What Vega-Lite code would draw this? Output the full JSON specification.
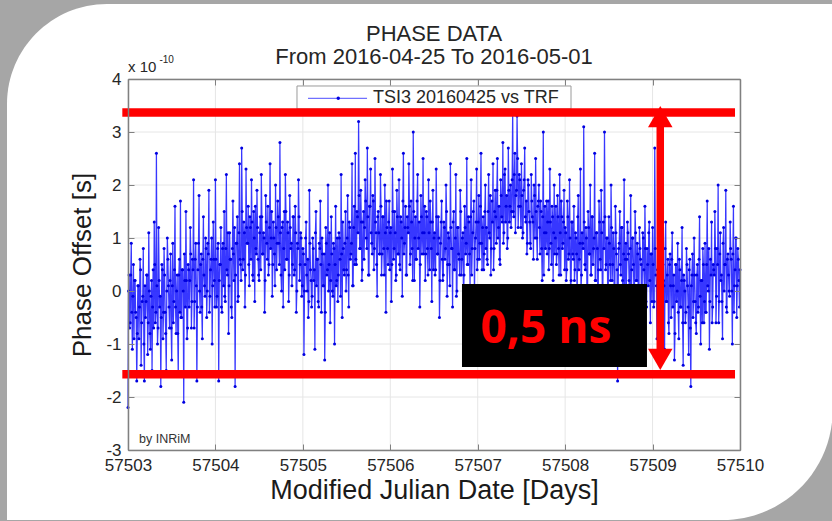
{
"$schema": "https://vega.github.io/schema/vega-lite/v6.json",
"width": 612,
"height": 371,
"autosize": {"type": "none"},
"padding": {"left": 128, "top": 79, "right": 92, "bottom": 71},
"background": "#a6a6a6",
"config": {"view": {"stroke": null}},
"datasets": {
"phase": [
{"t":57503,"v":-2.2},{"t":57503.0125,"v":0.3},{"t":57503.025,"v":-0.6},{"t":57503.0375,"v":0.9},{"t":57503.05,"v":-1.1},{"t":57503.0625,"v":0.5},{"t":57503.075,"v":0.2},{"t":57503.0875,"v":-0.4},
{"t":57503.1,"v":-1.7},{"t":57503.1125,"v":0.1},{"t":57503.125,"v":-0.9},{"t":57503.1375,"v":0.6},{"t":57503.15,"v":-1.4},{"t":57503.1625,"v":-0.2},{"t":57503.175,"v":0.8},{"t":57503.1875,"v":-1.7},
{"t":57503.2,"v":-0.5},{"t":57503.2125,"v":0.3},{"t":57503.225,"v":-1.2},{"t":57503.2375,"v":1.1},{"t":57503.25,"v":-0.8},{"t":57503.2625,"v":-0.1},{"t":57503.275,"v":-1.5},{"t":57503.2875,"v":0.4},
{"t":57503.3,"v":1.3},{"t":57503.3125,"v":-0.6},{"t":57503.325,"v":2.6},{"t":57503.3375,"v":-1.0},{"t":57503.35,"v":1.2},{"t":57503.3625,"v":-0.3},{"t":57503.375,"v":-1.8},{"t":57503.3875,"v":0.5},
{"t":57503.4,"v":-0.9},{"t":57503.4125,"v":0.8},{"t":57503.425,"v":-0.4},{"t":57503.4375,"v":-1.5},{"t":57503.45,"v":1.0},{"t":57503.4625,"v":0.1},{"t":57503.475,"v":-0.7},{"t":57503.4875,"v":0.7},
{"t":57503.5,"v":-1.3},{"t":57503.5125,"v":0.9},{"t":57503.525,"v":-0.2},{"t":57503.5375,"v":1.6},{"t":57503.55,"v":-0.8},{"t":57503.5625,"v":0.3},{"t":57503.575,"v":-1.6},{"t":57503.5875,"v":0.6},
{"t":57503.6,"v":1.7},{"t":57503.6125,"v":-0.5},{"t":57503.625,"v":0.4},{"t":57503.6375,"v":-2.1},{"t":57503.65,"v":0.2},{"t":57503.6625,"v":1.5},{"t":57503.675,"v":-0.9},{"t":57503.6875,"v":0.5},
{"t":57503.7,"v":-0.3},{"t":57503.7125,"v":1.2},{"t":57503.725,"v":-0.7},{"t":57503.7375,"v":0.6},{"t":57503.75,"v":2.1},{"t":57503.7625,"v":-0.2},{"t":57503.775,"v":0.9},{"t":57503.7875,"v":-1.7},
{"t":57503.8,"v":0.4},{"t":57503.8125,"v":1.8},{"t":57503.825,"v":-0.4},{"t":57503.8375,"v":0.7},{"t":57503.85,"v":-0.9},{"t":57503.8625,"v":1.4},{"t":57503.875,"v":0.1},{"t":57503.8875,"v":1.0},
{"t":57503.9,"v":-0.5},{"t":57503.9125,"v":0.9},{"t":57503.925,"v":1.9},{"t":57503.9375,"v":-0.1},{"t":57503.95,"v":0.6},{"t":57503.9625,"v":-1.0},{"t":57503.975,"v":1.3},{"t":57503.9875,"v":0.2},
{"t":57504,"v":2.1},{"t":57504.0125,"v":-0.3},{"t":57504.025,"v":0.8},{"t":57504.0375,"v":-1.7},{"t":57504.05,"v":0.5},{"t":57504.0625,"v":1.2},{"t":57504.075,"v":-0.4},{"t":57504.0875,"v":0.9},
{"t":57504.1,"v":1.5},{"t":57504.1125,"v":-0.2},{"t":57504.125,"v":2.2},{"t":57504.1375,"v":0.3},{"t":57504.15,"v":-0.8},{"t":57504.1625,"v":1.1},{"t":57504.175,"v":0.6},{"t":57504.1875,"v":-0.5},
{"t":57504.2,"v":1.7},{"t":57504.2125,"v":0.2},{"t":57504.225,"v":-1.8},{"t":57504.2375,"v":0.9},{"t":57504.25,"v":1.4},{"t":57504.2625,"v":-0.1},{"t":57504.275,"v":2.4},{"t":57504.2875,"v":0.5},
{"t":57504.3,"v":2.7},{"t":57504.3125,"v":0.4},{"t":57504.325,"v":1.3},{"t":57504.3375,"v":-0.3},{"t":57504.35,"v":2.3},{"t":57504.3625,"v":0.9},{"t":57504.375,"v":1.6},{"t":57504.3875,"v":0.1},
{"t":57504.4,"v":1.2},{"t":57504.4125,"v":2.1},{"t":57504.425,"v":0.3},{"t":57504.4375,"v":1.5},{"t":57504.45,"v":-0.2},{"t":57504.4625,"v":0.8},{"t":57504.475,"v":1.9},{"t":57504.4875,"v":0.6},
{"t":57504.5,"v":0.2},{"t":57504.5125,"v":1.4},{"t":57504.525,"v":2.2},{"t":57504.5375,"v":0.7},{"t":57504.55,"v":1.1},{"t":57504.5625,"v":-0.4},{"t":57504.575,"v":1.8},{"t":57504.5875,"v":0.9},
{"t":57504.6,"v":1.6},{"t":57504.6125,"v":0.5},{"t":57504.625,"v":2.4},{"t":57504.6375,"v":1.0},{"t":57504.65,"v":-0.1},{"t":57504.6625,"v":1.3},{"t":57504.675,"v":0.7},{"t":57504.6875,"v":2.0},
{"t":57504.7,"v":0.4},{"t":57504.7125,"v":1.7},{"t":57504.725,"v":0.9},{"t":57504.7375,"v":2.8},{"t":57504.75,"v":0.3},{"t":57504.7625,"v":1.2},{"t":57504.775,"v":-0.3},{"t":57504.7875,"v":1.5},
{"t":57504.8,"v":2.2},{"t":57504.8125,"v":0.6},{"t":57504.825,"v":1.3},{"t":57504.8375,"v":-0.2},{"t":57504.85,"v":1.8},{"t":57504.8625,"v":0.8},{"t":57504.875,"v":0.1},{"t":57504.8875,"v":1.4},
{"t":57504.9,"v":0.3},{"t":57504.9125,"v":1.6},{"t":57504.925,"v":-0.4},{"t":57504.9375,"v":0.9},{"t":57504.95,"v":2.1},{"t":57504.9625,"v":0.2},{"t":57504.975,"v":1.1},{"t":57504.9875,"v":-0.1},
{"t":57505,"v":0.8},{"t":57505.0125,"v":-1.2},{"t":57505.025,"v":0.5},{"t":57505.0375,"v":1.3},{"t":57505.05,"v":0.0},{"t":57505.0625,"v":-0.5},{"t":57505.075,"v":1.9},{"t":57505.0875,"v":0.4},
{"t":57505.1,"v":-0.3},{"t":57505.1125,"v":1.0},{"t":57505.125,"v":0.2},{"t":57505.1375,"v":-1.1},{"t":57505.15,"v":1.5},{"t":57505.1625,"v":0.6},{"t":57505.175,"v":-0.2},{"t":57505.1875,"v":0.9},
{"t":57505.2,"v":1.7},{"t":57505.2125,"v":-0.4},{"t":57505.225,"v":0.7},{"t":57505.2375,"v":0.1},{"t":57505.25,"v":-1.3},{"t":57505.2625,"v":1.2},{"t":57505.275,"v":0.3},{"t":57505.2875,"v":2.0},
{"t":57505.3,"v":0.5},{"t":57505.3125,"v":-0.6},{"t":57505.325,"v":1.4},{"t":57505.3375,"v":0.0},{"t":57505.35,"v":0.9},{"t":57505.3625,"v":-1.0},{"t":57505.375,"v":1.6},{"t":57505.3875,"v":0.2},
{"t":57505.4,"v":-0.2},{"t":57505.4125,"v":1.1},{"t":57505.425,"v":0.6},{"t":57505.4375,"v":2.2},{"t":57505.45,"v":-0.5},{"t":57505.4625,"v":0.8},{"t":57505.475,"v":0.3},{"t":57505.4875,"v":1.5},
{"t":57505.5,"v":0.4},{"t":57505.5125,"v":1.8},{"t":57505.525,"v":-0.3},{"t":57505.5375,"v":1.2},{"t":57505.55,"v":0.7},{"t":57505.5625,"v":2.4},{"t":57505.575,"v":0.1},{"t":57505.5875,"v":1.6},
{"t":57505.6,"v":2.6},{"t":57505.6125,"v":0.5},{"t":57505.625,"v":1.4},{"t":57505.6375,"v":3.2},{"t":57505.65,"v":0.8},{"t":57505.6625,"v":1.9},{"t":57505.675,"v":0.2},{"t":57505.6875,"v":1.3},
{"t":57505.7,"v":0.6},{"t":57505.7125,"v":2.1},{"t":57505.725,"v":1.0},{"t":57505.7375,"v":2.7},{"t":57505.75,"v":0.3},{"t":57505.7625,"v":1.6},{"t":57505.775,"v":2.3},{"t":57505.7875,"v":0.9},
{"t":57505.8,"v":1.8},{"t":57505.8125,"v":0.4},{"t":57505.825,"v":2.5},{"t":57505.8375,"v":1.1},{"t":57505.85,"v":-0.1},{"t":57505.8625,"v":1.5},{"t":57505.875,"v":0.7},{"t":57505.8875,"v":2.2},
{"t":57505.9,"v":0.3},{"t":57505.9125,"v":1.4},{"t":57505.925,"v":0.8},{"t":57505.9375,"v":2.0},{"t":57505.95,"v":-0.4},{"t":57505.9625,"v":1.2},{"t":57505.975,"v":0.5},{"t":57505.9875,"v":1.7},
{"t":57506,"v":1.1},{"t":57506.0125,"v":-0.2},{"t":57506.025,"v":2.3},{"t":57506.0375,"v":0.6},{"t":57506.05,"v":1.5},{"t":57506.0625,"v":0.2},{"t":57506.075,"v":1.9},{"t":57506.0875,"v":0.7},
{"t":57506.1,"v":2.1},{"t":57506.1125,"v":0.4},{"t":57506.125,"v":1.3},{"t":57506.1375,"v":-0.1},{"t":57506.15,"v":2.6},{"t":57506.1625,"v":0.9},{"t":57506.175,"v":1.6},{"t":57506.1875,"v":0.3},
{"t":57506.2,"v":1.2},{"t":57506.2125,"v":2.4},{"t":57506.225,"v":0.5},{"t":57506.2375,"v":1.7},{"t":57506.25,"v":0.8},{"t":57506.2625,"v":3.0},{"t":57506.275,"v":0.2},{"t":57506.2875,"v":1.4},
{"t":57506.3,"v":0.6},{"t":57506.3125,"v":2.2},{"t":57506.325,"v":1.0},{"t":57506.3375,"v":-0.3},{"t":57506.35,"v":1.8},{"t":57506.3625,"v":0.7},{"t":57506.375,"v":2.5},{"t":57506.3875,"v":1.1},
{"t":57506.4,"v":0.2},{"t":57506.4125,"v":1.5},{"t":57506.425,"v":0.8},{"t":57506.4375,"v":2.1},{"t":57506.45,"v":0.4},{"t":57506.4625,"v":1.3},{"t":57506.475,"v":-0.2},{"t":57506.4875,"v":1.9},
{"t":57506.5,"v":1.0},{"t":57506.5125,"v":0.3},{"t":57506.525,"v":2.3},{"t":57506.5375,"v":0.7},{"t":57506.55,"v":1.4},{"t":57506.5625,"v":-0.5},{"t":57506.575,"v":0.9},{"t":57506.5875,"v":1.7},
{"t":57506.6,"v":0.2},{"t":57506.6125,"v":1.3},{"t":57506.625,"v":0.6},{"t":57506.6375,"v":2.0},{"t":57506.65,"v":-0.1},{"t":57506.6625,"v":1.1},{"t":57506.675,"v":0.5},{"t":57506.6875,"v":2.4},
{"t":57506.7,"v":0.8},{"t":57506.7125,"v":-0.3},{"t":57506.725,"v":1.5},{"t":57506.7375,"v":0.4},{"t":57506.75,"v":2.2},{"t":57506.7625,"v":0.0},{"t":57506.775,"v":1.2},{"t":57506.7875,"v":0.6},
{"t":57506.8,"v":1.9},{"t":57506.8125,"v":0.3},{"t":57506.825,"v":1.0},{"t":57506.8375,"v":-0.2},{"t":57506.85,"v":1.6},{"t":57506.8625,"v":0.7},{"t":57506.875,"v":2.5},{"t":57506.8875,"v":0.5},
{"t":57506.9,"v":1.3},{"t":57506.9125,"v":0.1},{"t":57506.925,"v":2.1},{"t":57506.9375,"v":0.8},{"t":57506.95,"v":1.5},{"t":57506.9625,"v":-0.1},{"t":57506.975,"v":1.0},{"t":57506.9875,"v":2.3},
{"t":57507,"v":0.6},{"t":57507.0125,"v":1.8},{"t":57507.025,"v":0.9},{"t":57507.0375,"v":2.6},{"t":57507.05,"v":0.4},{"t":57507.0625,"v":1.4},{"t":57507.075,"v":0.7},{"t":57507.0875,"v":2.0},
{"t":57507.1,"v":1.2},{"t":57507.1125,"v":0.5},{"t":57507.125,"v":2.2},{"t":57507.1375,"v":1.0},{"t":57507.15,"v":0.3},{"t":57507.1625,"v":1.7},{"t":57507.175,"v":2.4},{"t":57507.1875,"v":0.8},
{"t":57507.2,"v":1.9},{"t":57507.2125,"v":0.9},{"t":57507.225,"v":2.5},{"t":57507.2375,"v":1.2},{"t":57507.25,"v":0.6},{"t":57507.2625,"v":2.1},{"t":57507.275,"v":1.4},{"t":57507.2875,"v":2.8},
{"t":57507.3,"v":1.1},{"t":57507.3125,"v":2.3},{"t":57507.325,"v":1.6},{"t":57507.3375,"v":0.8},{"t":57507.35,"v":2.7},{"t":57507.3625,"v":1.3},{"t":57507.375,"v":2.0},{"t":57507.3875,"v":1.5},
{"t":57507.4,"v":3.4},{"t":57507.4125,"v":1.4},{"t":57507.425,"v":2.6},{"t":57507.4375,"v":1.8},{"t":57507.45,"v":3.3},{"t":57507.4625,"v":1.2},{"t":57507.475,"v":2.2},{"t":57507.4875,"v":1.6},
{"t":57507.5,"v":2.4},{"t":57507.5125,"v":1.0},{"t":57507.525,"v":1.9},{"t":57507.5375,"v":2.7},{"t":57507.55,"v":1.3},{"t":57507.5625,"v":0.7},{"t":57507.575,"v":2.1},{"t":57507.5875,"v":1.5},
{"t":57507.6,"v":0.9},{"t":57507.6125,"v":2.2},{"t":57507.625,"v":1.4},{"t":57507.6375,"v":0.6},{"t":57507.65,"v":1.8},{"t":57507.6625,"v":2.5},{"t":57507.675,"v":1.0},{"t":57507.6875,"v":1.6},
{"t":57507.7,"v":2.0},{"t":57507.7125,"v":0.7},{"t":57507.725,"v":1.5},{"t":57507.7375,"v":0.2},{"t":57507.75,"v":3.0},{"t":57507.7625,"v":1.1},{"t":57507.775,"v":0.8},{"t":57507.7875,"v":1.7},
{"t":57507.8,"v":1.3},{"t":57507.8125,"v":0.4},{"t":57507.825,"v":2.3},{"t":57507.8375,"v":0.9},{"t":57507.85,"v":1.6},{"t":57507.8625,"v":0.2},{"t":57507.875,"v":2.0},{"t":57507.8875,"v":1.0},
{"t":57507.9,"v":0.5},{"t":57507.9125,"v":1.8},{"t":57507.925,"v":0.8},{"t":57507.9375,"v":2.2},{"t":57507.95,"v":0.3},{"t":57507.9625,"v":1.4},{"t":57507.975,"v":0.9},{"t":57507.9875,"v":1.9},
{"t":57508,"v":1.2},{"t":57508.0125,"v":0.2},{"t":57508.025,"v":1.7},{"t":57508.0375,"v":0.6},{"t":57508.05,"v":2.1},{"t":57508.0625,"v":0.0},{"t":57508.075,"v":1.3},{"t":57508.0875,"v":0.7},
{"t":57508.1,"v":1.6},{"t":57508.1125,"v":0.4},{"t":57508.125,"v":1.0},{"t":57508.1375,"v":-0.2},{"t":57508.15,"v":1.8},{"t":57508.1625,"v":0.6},{"t":57508.175,"v":2.3},{"t":57508.1875,"v":0.3},
{"t":57508.2,"v":0.9},{"t":57508.2125,"v":3.1},{"t":57508.225,"v":0.5},{"t":57508.2375,"v":1.2},{"t":57508.25,"v":-0.1},{"t":57508.2625,"v":1.5},{"t":57508.275,"v":0.7},{"t":57508.2875,"v":2.0},
{"t":57508.3,"v":0.3},{"t":57508.3125,"v":1.4},{"t":57508.325,"v":0.8},{"t":57508.3375,"v":2.6},{"t":57508.35,"v":0.2},{"t":57508.3625,"v":1.1},{"t":57508.375,"v":-0.3},{"t":57508.3875,"v":1.7},
{"t":57508.4,"v":0.6},{"t":57508.4125,"v":1.9},{"t":57508.425,"v":0.1},{"t":57508.4375,"v":1.3},{"t":57508.45,"v":3.0},{"t":57508.4625,"v":0.4},{"t":57508.475,"v":1.0},{"t":57508.4875,"v":-0.2},
{"t":57508.5,"v":1.4},{"t":57508.5125,"v":0.5},{"t":57508.525,"v":2.0},{"t":57508.5375,"v":0.2},{"t":57508.55,"v":1.1},{"t":57508.5625,"v":-0.5},{"t":57508.575,"v":1.6},{"t":57508.5875,"v":0.7},
{"t":57508.6,"v":-1.7},{"t":57508.6125,"v":0.8},{"t":57508.625,"v":1.5},{"t":57508.6375,"v":0.3},{"t":57508.65,"v":1.2},{"t":57508.6625,"v":-0.3},{"t":57508.675,"v":2.1},{"t":57508.6875,"v":0.6},
{"t":57508.7,"v":0.1},{"t":57508.7125,"v":1.3},{"t":57508.725,"v":0.7},{"t":57508.7375,"v":-0.6},{"t":57508.75,"v":1.8},{"t":57508.7625,"v":0.4},{"t":57508.775,"v":1.0},{"t":57508.7875,"v":-0.1},
{"t":57508.8,"v":1.5},{"t":57508.8125,"v":0.2},{"t":57508.825,"v":0.9},{"t":57508.8375,"v":-0.4},{"t":57508.85,"v":1.2},{"t":57508.8625,"v":0.6},{"t":57508.875,"v":-0.8},{"t":57508.8875,"v":1.1},
{"t":57508.9,"v":0.4},{"t":57508.9125,"v":1.6},{"t":57508.925,"v":-0.2},{"t":57508.9375,"v":0.8},{"t":57508.95,"v":0.1},{"t":57508.9625,"v":1.3},{"t":57508.975,"v":-0.6},{"t":57508.9875,"v":0.7},
{"t":57509,"v":1.2},{"t":57509.0125,"v":-0.3},{"t":57509.025,"v":2.7},{"t":57509.0375,"v":0.3},{"t":57509.05,"v":-0.9},{"t":57509.0625,"v":0.8},{"t":57509.075,"v":0.1},{"t":57509.0875,"v":1.4},
{"t":57509.1,"v":-0.4},{"t":57509.1125,"v":0.9},{"t":57509.125,"v":0.2},{"t":57509.1375,"v":-1.1},{"t":57509.15,"v":1.3},{"t":57509.1625,"v":-0.2},{"t":57509.175,"v":0.6},{"t":57509.1875,"v":-0.8},
{"t":57509.2,"v":0.7},{"t":57509.2125,"v":-0.5},{"t":57509.225,"v":1.1},{"t":57509.2375,"v":0.1},{"t":57509.25,"v":-1.3},{"t":57509.2625,"v":0.5},{"t":57509.275,"v":-0.2},{"t":57509.2875,"v":0.9},
{"t":57509.3,"v":-0.9},{"t":57509.3125,"v":0.4},{"t":57509.325,"v":-0.3},{"t":57509.3375,"v":1.2},{"t":57509.35,"v":-1.4},{"t":57509.3625,"v":0.2},{"t":57509.375,"v":-0.6},{"t":57509.3875,"v":0.8},
{"t":57509.4,"v":0.1},{"t":57509.4125,"v":-1.2},{"t":57509.425,"v":0.6},{"t":57509.4375,"v":-1.8},{"t":57509.45,"v":0.3},{"t":57509.4625,"v":-0.5},{"t":57509.475,"v":1.0},{"t":57509.4875,"v":-0.2},
{"t":57509.5,"v":-0.8},{"t":57509.5125,"v":0.5},{"t":57509.525,"v":-0.3},{"t":57509.5375,"v":1.4},{"t":57509.55,"v":-1.0},{"t":57509.5625,"v":0.2},{"t":57509.575,"v":0.8},{"t":57509.5875,"v":-0.6},
{"t":57509.6,"v":0.9},{"t":57509.6125,"v":-0.4},{"t":57509.625,"v":1.7},{"t":57509.6375,"v":0.0},{"t":57509.65,"v":-1.1},{"t":57509.6625,"v":0.6},{"t":57509.675,"v":1.3},{"t":57509.6875,"v":-0.3},
{"t":57509.7,"v":0.4},{"t":57509.7125,"v":1.5},{"t":57509.725,"v":-0.6},{"t":57509.7375,"v":0.8},{"t":57509.75,"v":2.0},{"t":57509.7625,"v":-0.2},{"t":57509.775,"v":1.1},{"t":57509.7875,"v":0.3},
{"t":57509.8,"v":-0.9},{"t":57509.8125,"v":1.2},{"t":57509.825,"v":0.5},{"t":57509.8375,"v":1.9},{"t":57509.85,"v":-0.4},{"t":57509.8625,"v":0.7},{"t":57509.875,"v":0.0},{"t":57509.8875,"v":1.3},
{"t":57509.9,"v":0.6},{"t":57509.9125,"v":-1.0},{"t":57509.925,"v":1.6},{"t":57509.9375,"v":0.1},{"t":57509.95,"v":1.0},{"t":57509.9625,"v":-0.5},{"t":57509.975,"v":0.8},{"t":57509.9875,"v":0.2},
{"t":57510,"v":0.4},
{"t":57503.00625,"v":0.0},{"t":57503.01875,"v":-0.7},{"t":57503.03125,"v":0.3},{"t":57503.04375,"v":-0.4},{"t":57503.05625,"v":-0.1},{"t":57503.06875,"v":-0.9},{"t":57503.08125,"v":0.2},{"t":57503.09375,"v":-0.5},
{"t":57503.10625,"v":-0.8},{"t":57503.11875,"v":0.1},{"t":57503.13125,"v":-0.3},{"t":57503.14375,"v":0.4},{"t":57503.15625,"v":-0.6},{"t":57503.16875,"v":-0.1},{"t":57503.18125,"v":-1.0},{"t":57503.19375,"v":0.1},
{"t":57503.20625,"v":-0.2},{"t":57503.21875,"v":0.3},{"t":57503.23125,"v":-0.6},{"t":57503.24375,"v":0.0},{"t":57503.25625,"v":-1.1},{"t":57503.26875,"v":0.2},{"t":57503.28125,"v":-0.3},{"t":57503.29375,"v":-0.7},
{"t":57503.30625,"v":0.5},{"t":57503.31875,"v":-0.4},{"t":57503.33125,"v":0.1},{"t":57503.34375,"v":-0.7},{"t":57503.35625,"v":0.2},{"t":57503.36875,"v":-0.1},{"t":57503.38125,"v":-0.5},{"t":57503.39375,"v":0.4},
{"t":57503.40625,"v":-0.4},{"t":57503.41875,"v":0.3},{"t":57503.43125,"v":-0.8},{"t":57503.44375,"v":0.0},{"t":57503.45625,"v":0.6},{"t":57503.46875,"v":-0.3},{"t":57503.48125,"v":0.2},{"t":57503.49375,"v":-0.7},
{"t":57503.50625,"v":0.1},{"t":57503.51875,"v":-0.6},{"t":57503.53125,"v":0.4},{"t":57503.54375,"v":-0.3},{"t":57503.55625,"v":0.0},{"t":57503.56875,"v":-0.8},{"t":57503.58125,"v":0.3},{"t":57503.59375,"v":-0.4},
{"t":57503.60625,"v":-0.5},{"t":57503.61875,"v":0.4},{"t":57503.63125,"v":0.0},{"t":57503.64375,"v":0.7},{"t":57503.65625,"v":-0.3},{"t":57503.66875,"v":0.2},{"t":57503.68125,"v":-0.7},{"t":57503.69375,"v":0.4},
{"t":57503.70625,"v":0.2},{"t":57503.71875,"v":0.7},{"t":57503.73125,"v":-0.2},{"t":57503.74375,"v":0.4},{"t":57503.75625,"v":-0.7},{"t":57503.76875,"v":0.6},{"t":57503.78125,"v":0.1},{"t":57503.79375,"v":-0.3},
{"t":57503.80625,"v":0.9},{"t":57503.81875,"v":0.0},{"t":57503.83125,"v":0.5},{"t":57503.84375,"v":-0.3},{"t":57503.85625,"v":0.6},{"t":57503.86875,"v":0.3},{"t":57503.88125,"v":-0.1},{"t":57503.89375,"v":0.8},
{"t":57503.90625,"v":0.0},{"t":57503.91875,"v":0.7},{"t":57503.93125,"v":-0.4},{"t":57503.94375,"v":0.4},{"t":57503.95625,"v":1.0},{"t":57503.96875,"v":0.1},{"t":57503.98125,"v":0.6},{"t":57503.99375,"v":-0.3},
{"t":57504.00625,"v":0.6},{"t":57504.01875,"v":-0.1},{"t":57504.03125,"v":0.9},{"t":57504.04375,"v":0.2},{"t":57504.05625,"v":0.5},{"t":57504.06875,"v":-0.3},{"t":57504.08125,"v":0.8},{"t":57504.09375,"v":0.1},
{"t":57504.10625,"v":-0.1},{"t":57504.11875,"v":0.8},{"t":57504.13125,"v":0.4},{"t":57504.14375,"v":1.1},{"t":57504.15625,"v":0.1},{"t":57504.16875,"v":0.6},{"t":57504.18125,"v":-0.3},{"t":57504.19375,"v":0.8},
{"t":57504.20625,"v":0.7},{"t":57504.21875,"v":1.2},{"t":57504.23125,"v":0.3},{"t":57504.24375,"v":0.9},{"t":57504.25625,"v":-0.2},{"t":57504.26875,"v":1.1},{"t":57504.28125,"v":0.6},{"t":57504.29375,"v":0.2},
{"t":57504.30625,"v":1.5},{"t":57504.31875,"v":0.6},{"t":57504.33125,"v":1.1},{"t":57504.34375,"v":0.3},{"t":57504.35625,"v":1.2},{"t":57504.36875,"v":0.9},{"t":57504.38125,"v":0.5},{"t":57504.39375,"v":1.4},
{"t":57504.40625,"v":0.6},{"t":57504.41875,"v":1.3},{"t":57504.43125,"v":0.2},{"t":57504.44375,"v":1.0},{"t":57504.45625,"v":1.6},{"t":57504.46875,"v":0.7},{"t":57504.48125,"v":1.2},{"t":57504.49375,"v":0.3},
{"t":57504.50625,"v":1.1},{"t":57504.51875,"v":0.4},{"t":57504.53125,"v":1.4},{"t":57504.54375,"v":0.7},{"t":57504.55625,"v":1.0},{"t":57504.56875,"v":0.2},{"t":57504.58125,"v":1.3},{"t":57504.59375,"v":0.6},
{"t":57504.60625,"v":0.3},{"t":57504.61875,"v":1.2},{"t":57504.63125,"v":0.8},{"t":57504.64375,"v":1.5},{"t":57504.65625,"v":0.5},{"t":57504.66875,"v":1.0},{"t":57504.68125,"v":0.1},{"t":57504.69375,"v":1.2},
{"t":57504.70625,"v":0.9},{"t":57504.71875,"v":1.4},{"t":57504.73125,"v":0.5},{"t":57504.74375,"v":1.1},{"t":57504.75625,"v":0.0},{"t":57504.76875,"v":1.3},{"t":57504.78125,"v":0.8},{"t":57504.79375,"v":0.4},
{"t":57504.80625,"v":1.5},{"t":57504.81875,"v":0.6},{"t":57504.83125,"v":1.1},{"t":57504.84375,"v":0.3},{"t":57504.85625,"v":1.2},{"t":57504.86875,"v":0.9},{"t":57504.88125,"v":0.5},{"t":57504.89375,"v":1.4},
{"t":57504.90625,"v":0.4},{"t":57504.91875,"v":1.1},{"t":57504.93125,"v":0.0},{"t":57504.94375,"v":0.8},{"t":57504.95625,"v":1.4},{"t":57504.96875,"v":0.5},{"t":57504.98125,"v":1.0},{"t":57504.99375,"v":0.1},
{"t":57505.00625,"v":0.7},{"t":57505.01875,"v":0.0},{"t":57505.03125,"v":1.0},{"t":57505.04375,"v":0.3},{"t":57505.05625,"v":0.6},{"t":57505.06875,"v":-0.2},{"t":57505.08125,"v":0.9},{"t":57505.09375,"v":0.2},
{"t":57505.10625,"v":-0.1},{"t":57505.11875,"v":0.8},{"t":57505.13125,"v":0.4},{"t":57505.14375,"v":1.1},{"t":57505.15625,"v":0.1},{"t":57505.16875,"v":0.6},{"t":57505.18125,"v":-0.3},{"t":57505.19375,"v":0.8},
{"t":57505.20625,"v":0.5},{"t":57505.21875,"v":1.0},{"t":57505.23125,"v":0.1},{"t":57505.24375,"v":0.7},{"t":57505.25625,"v":-0.4},{"t":57505.26875,"v":0.9},{"t":57505.28125,"v":0.4},{"t":57505.29375,"v":0.0},
{"t":57505.30625,"v":1.1},{"t":57505.31875,"v":0.2},{"t":57505.33125,"v":0.7},{"t":57505.34375,"v":-0.1},{"t":57505.35625,"v":0.8},{"t":57505.36875,"v":0.5},{"t":57505.38125,"v":0.1},{"t":57505.39375,"v":1.0},
{"t":57505.40625,"v":0.3},{"t":57505.41875,"v":1.0},{"t":57505.43125,"v":-0.1},{"t":57505.44375,"v":0.7},{"t":57505.45625,"v":1.3},{"t":57505.46875,"v":0.4},{"t":57505.48125,"v":0.9},{"t":57505.49375,"v":0.0},
{"t":57505.50625,"v":1.0},{"t":57505.51875,"v":0.3},{"t":57505.53125,"v":1.3},{"t":57505.54375,"v":0.6},{"t":57505.55625,"v":0.9},{"t":57505.56875,"v":0.1},{"t":57505.58125,"v":1.2},{"t":57505.59375,"v":0.5},
{"t":57505.60625,"v":0.6},{"t":57505.61875,"v":1.5},{"t":57505.63125,"v":1.1},{"t":57505.64375,"v":1.8},{"t":57505.65625,"v":0.8},{"t":57505.66875,"v":1.3},{"t":57505.68125,"v":0.4},{"t":57505.69375,"v":1.5},
{"t":57505.70625,"v":1.2},{"t":57505.71875,"v":1.7},{"t":57505.73125,"v":0.8},{"t":57505.74375,"v":1.4},{"t":57505.75625,"v":0.3},{"t":57505.76875,"v":1.6},{"t":57505.78125,"v":1.1},{"t":57505.79375,"v":0.7},
{"t":57505.80625,"v":1.7},{"t":57505.81875,"v":0.8},{"t":57505.83125,"v":1.3},{"t":57505.84375,"v":0.5},{"t":57505.85625,"v":1.4},{"t":57505.86875,"v":1.1},{"t":57505.88125,"v":0.7},{"t":57505.89375,"v":1.6},
{"t":57505.90625,"v":0.7},{"t":57505.91875,"v":1.4},{"t":57505.93125,"v":0.3},{"t":57505.94375,"v":1.1},{"t":57505.95625,"v":1.7},{"t":57505.96875,"v":0.8},{"t":57505.98125,"v":1.3},{"t":57505.99375,"v":0.4},
{"t":57506.00625,"v":1.2},{"t":57506.01875,"v":0.5},{"t":57506.03125,"v":1.5},{"t":57506.04375,"v":0.8},{"t":57506.05625,"v":1.1},{"t":57506.06875,"v":0.3},{"t":57506.08125,"v":1.4},{"t":57506.09375,"v":0.7},
{"t":57506.10625,"v":0.5},{"t":57506.11875,"v":1.4},{"t":57506.13125,"v":1.0},{"t":57506.14375,"v":1.7},{"t":57506.15625,"v":0.7},{"t":57506.16875,"v":1.2},{"t":57506.18125,"v":0.3},{"t":57506.19375,"v":1.4},
{"t":57506.20625,"v":1.1},{"t":57506.21875,"v":1.6},{"t":57506.23125,"v":0.7},{"t":57506.24375,"v":1.3},{"t":57506.25625,"v":0.2},{"t":57506.26875,"v":1.5},{"t":57506.28125,"v":1.0},{"t":57506.29375,"v":0.6},
{"t":57506.30625,"v":1.7},{"t":57506.31875,"v":0.8},{"t":57506.33125,"v":1.3},{"t":57506.34375,"v":0.5},{"t":57506.35625,"v":1.4},{"t":57506.36875,"v":1.1},{"t":57506.38125,"v":0.7},{"t":57506.39375,"v":1.6},
{"t":57506.40625,"v":0.7},{"t":57506.41875,"v":1.4},{"t":57506.43125,"v":0.3},{"t":57506.44375,"v":1.1},{"t":57506.45625,"v":1.7},{"t":57506.46875,"v":0.8},{"t":57506.48125,"v":1.3},{"t":57506.49375,"v":0.4},
{"t":57506.50625,"v":1.1},{"t":57506.51875,"v":0.4},{"t":57506.53125,"v":1.4},{"t":57506.54375,"v":0.7},{"t":57506.55625,"v":1.0},{"t":57506.56875,"v":0.2},{"t":57506.58125,"v":1.3},{"t":57506.59375,"v":0.6},
{"t":57506.60625,"v":0.3},{"t":57506.61875,"v":1.2},{"t":57506.63125,"v":0.8},{"t":57506.64375,"v":1.5},{"t":57506.65625,"v":0.5},{"t":57506.66875,"v":1.0},{"t":57506.68125,"v":0.1},{"t":57506.69375,"v":1.2},
{"t":57506.70625,"v":0.8},{"t":57506.71875,"v":1.3},{"t":57506.73125,"v":0.4},{"t":57506.74375,"v":1.0},{"t":57506.75625,"v":-0.1},{"t":57506.76875,"v":1.2},{"t":57506.78125,"v":0.7},{"t":57506.79375,"v":0.3},
{"t":57506.80625,"v":1.5},{"t":57506.81875,"v":0.6},{"t":57506.83125,"v":1.1},{"t":57506.84375,"v":0.3},{"t":57506.85625,"v":1.2},{"t":57506.86875,"v":0.9},{"t":57506.88125,"v":0.5},{"t":57506.89375,"v":1.4},
{"t":57506.90625,"v":0.7},{"t":57506.91875,"v":1.4},{"t":57506.93125,"v":0.3},{"t":57506.94375,"v":1.1},{"t":57506.95625,"v":1.7},{"t":57506.96875,"v":0.8},{"t":57506.98125,"v":1.3},{"t":57506.99375,"v":0.4},
{"t":57507.00625,"v":1.3},{"t":57507.01875,"v":0.6},{"t":57507.03125,"v":1.6},{"t":57507.04375,"v":0.9},{"t":57507.05625,"v":1.2},{"t":57507.06875,"v":0.4},{"t":57507.08125,"v":1.5},{"t":57507.09375,"v":0.8},
{"t":57507.10625,"v":0.6},{"t":57507.11875,"v":1.5},{"t":57507.13125,"v":1.1},{"t":57507.14375,"v":1.8},{"t":57507.15625,"v":0.8},{"t":57507.16875,"v":1.3},{"t":57507.18125,"v":0.4},{"t":57507.19375,"v":1.5},
{"t":57507.20625,"v":1.4},{"t":57507.21875,"v":1.9},{"t":57507.23125,"v":1.0},{"t":57507.24375,"v":1.6},{"t":57507.25625,"v":0.5},{"t":57507.26875,"v":1.8},{"t":57507.28125,"v":1.3},{"t":57507.29375,"v":0.9},
{"t":57507.30625,"v":2.2},{"t":57507.31875,"v":1.3},{"t":57507.33125,"v":1.8},{"t":57507.34375,"v":1.0},{"t":57507.35625,"v":1.9},{"t":57507.36875,"v":1.6},{"t":57507.38125,"v":1.2},{"t":57507.39375,"v":2.1},
{"t":57507.40625,"v":1.5},{"t":57507.41875,"v":2.2},{"t":57507.43125,"v":1.1},{"t":57507.44375,"v":1.9},{"t":57507.45625,"v":2.5},{"t":57507.46875,"v":1.6},{"t":57507.48125,"v":2.1},{"t":57507.49375,"v":1.2},
{"t":57507.50625,"v":1.8},{"t":57507.51875,"v":1.1},{"t":57507.53125,"v":2.1},{"t":57507.54375,"v":1.4},{"t":57507.55625,"v":1.7},{"t":57507.56875,"v":0.9},{"t":57507.58125,"v":2.0},{"t":57507.59375,"v":1.3},
{"t":57507.60625,"v":0.8},{"t":57507.61875,"v":1.7},{"t":57507.63125,"v":1.3},{"t":57507.64375,"v":2.0},{"t":57507.65625,"v":1.0},{"t":57507.66875,"v":1.5},{"t":57507.68125,"v":0.6},{"t":57507.69375,"v":1.7},
{"t":57507.70625,"v":1.2},{"t":57507.71875,"v":1.7},{"t":57507.73125,"v":0.8},{"t":57507.74375,"v":1.4},{"t":57507.75625,"v":0.3},{"t":57507.76875,"v":1.6},{"t":57507.78125,"v":1.1},{"t":57507.79375,"v":0.7},
{"t":57507.80625,"v":1.7},{"t":57507.81875,"v":0.8},{"t":57507.83125,"v":1.3},{"t":57507.84375,"v":0.5},{"t":57507.85625,"v":1.4},{"t":57507.86875,"v":1.1},{"t":57507.88125,"v":0.7},{"t":57507.89375,"v":1.6},
{"t":57507.90625,"v":0.7},{"t":57507.91875,"v":1.4},{"t":57507.93125,"v":0.3},{"t":57507.94375,"v":1.1},{"t":57507.95625,"v":1.7},{"t":57507.96875,"v":0.8},{"t":57507.98125,"v":1.3},{"t":57507.99375,"v":0.4},
{"t":57508.00625,"v":1.1},{"t":57508.01875,"v":0.4},{"t":57508.03125,"v":1.4},{"t":57508.04375,"v":0.7},{"t":57508.05625,"v":1.0},{"t":57508.06875,"v":0.2},{"t":57508.08125,"v":1.3},{"t":57508.09375,"v":0.6},
{"t":57508.10625,"v":0.2},{"t":57508.11875,"v":1.1},{"t":57508.13125,"v":0.7},{"t":57508.14375,"v":1.4},{"t":57508.15625,"v":0.4},{"t":57508.16875,"v":0.9},{"t":57508.18125,"v":0.0},{"t":57508.19375,"v":1.1},
{"t":57508.20625,"v":0.8},{"t":57508.21875,"v":1.3},{"t":57508.23125,"v":0.4},{"t":57508.24375,"v":1.0},{"t":57508.25625,"v":-0.1},{"t":57508.26875,"v":1.2},{"t":57508.28125,"v":0.7},{"t":57508.29375,"v":0.3},
{"t":57508.30625,"v":1.4},{"t":57508.31875,"v":0.5},{"t":57508.33125,"v":1.0},{"t":57508.34375,"v":0.2},{"t":57508.35625,"v":1.1},{"t":57508.36875,"v":0.8},{"t":57508.38125,"v":0.4},{"t":57508.39375,"v":1.3},
{"t":57508.40625,"v":0.4},{"t":57508.41875,"v":1.1},{"t":57508.43125,"v":0.0},{"t":57508.44375,"v":0.8},{"t":57508.45625,"v":1.4},{"t":57508.46875,"v":0.5},{"t":57508.48125,"v":1.0},{"t":57508.49375,"v":0.1},
{"t":57508.50625,"v":0.9},{"t":57508.51875,"v":0.2},{"t":57508.53125,"v":1.2},{"t":57508.54375,"v":0.5},{"t":57508.55625,"v":0.8},{"t":57508.56875,"v":0.0},{"t":57508.58125,"v":1.1},{"t":57508.59375,"v":0.4},
{"t":57508.60625,"v":0.0},{"t":57508.61875,"v":0.9},{"t":57508.63125,"v":0.5},{"t":57508.64375,"v":1.2},{"t":57508.65625,"v":0.2},{"t":57508.66875,"v":0.7},{"t":57508.68125,"v":-0.2},{"t":57508.69375,"v":0.9},
{"t":57508.70625,"v":0.6},{"t":57508.71875,"v":1.1},{"t":57508.73125,"v":0.2},{"t":57508.74375,"v":0.8},{"t":57508.75625,"v":-0.3},{"t":57508.76875,"v":1.0},{"t":57508.78125,"v":0.5},{"t":57508.79375,"v":0.1},
{"t":57508.80625,"v":1.1},{"t":57508.81875,"v":0.2},{"t":57508.83125,"v":0.7},{"t":57508.84375,"v":-0.1},{"t":57508.85625,"v":0.8},{"t":57508.86875,"v":0.5},{"t":57508.88125,"v":0.1},{"t":57508.89375,"v":1.0},
{"t":57508.90625,"v":0.1},{"t":57508.91875,"v":0.8},{"t":57508.93125,"v":-0.3},{"t":57508.94375,"v":0.5},{"t":57508.95625,"v":1.1},{"t":57508.96875,"v":0.2},{"t":57508.98125,"v":0.7},{"t":57508.99375,"v":-0.2},
{"t":57509.00625,"v":0.5},{"t":57509.01875,"v":-0.2},{"t":57509.03125,"v":0.8},{"t":57509.04375,"v":0.1},{"t":57509.05625,"v":0.4},{"t":57509.06875,"v":-0.4},{"t":57509.08125,"v":0.7},{"t":57509.09375,"v":0.0},
{"t":57509.10625,"v":-0.4},{"t":57509.11875,"v":0.5},{"t":57509.13125,"v":0.1},{"t":57509.14375,"v":0.8},{"t":57509.15625,"v":-0.2},{"t":57509.16875,"v":0.3},{"t":57509.18125,"v":-0.6},{"t":57509.19375,"v":0.5},
{"t":57509.20625,"v":0.1},{"t":57509.21875,"v":0.6},{"t":57509.23125,"v":-0.3},{"t":57509.24375,"v":0.3},{"t":57509.25625,"v":-0.8},{"t":57509.26875,"v":0.5},{"t":57509.28125,"v":0.0},{"t":57509.29375,"v":-0.4},
{"t":57509.30625,"v":0.6},{"t":57509.31875,"v":-0.3},{"t":57509.33125,"v":0.2},{"t":57509.34375,"v":-0.6},{"t":57509.35625,"v":0.3},{"t":57509.36875,"v":0.0},{"t":57509.38125,"v":-0.4},{"t":57509.39375,"v":0.5},
{"t":57509.40625,"v":-0.3},{"t":57509.41875,"v":0.4},{"t":57509.43125,"v":-0.7},{"t":57509.44375,"v":0.1},{"t":57509.45625,"v":0.7},{"t":57509.46875,"v":-0.2},{"t":57509.48125,"v":0.3},{"t":57509.49375,"v":-0.6},
{"t":57509.50625,"v":0.3},{"t":57509.51875,"v":-0.4},{"t":57509.53125,"v":0.6},{"t":57509.54375,"v":-0.1},{"t":57509.55625,"v":0.2},{"t":57509.56875,"v":-0.6},{"t":57509.58125,"v":0.5},{"t":57509.59375,"v":-0.2},
{"t":57509.60625,"v":-0.4},{"t":57509.61875,"v":0.5},{"t":57509.63125,"v":0.1},{"t":57509.64375,"v":0.8},{"t":57509.65625,"v":-0.2},{"t":57509.66875,"v":0.3},{"t":57509.68125,"v":-0.6},{"t":57509.69375,"v":0.5},
{"t":57509.70625,"v":0.3},{"t":57509.71875,"v":0.8},{"t":57509.73125,"v":-0.1},{"t":57509.74375,"v":0.5},{"t":57509.75625,"v":-0.6},{"t":57509.76875,"v":0.7},{"t":57509.78125,"v":0.2},{"t":57509.79375,"v":-0.2},
{"t":57509.80625,"v":0.9},{"t":57509.81875,"v":0.0},{"t":57509.83125,"v":0.5},{"t":57509.84375,"v":-0.3},{"t":57509.85625,"v":0.6},{"t":57509.86875,"v":0.3},{"t":57509.88125,"v":-0.1},{"t":57509.89375,"v":0.8},
{"t":57509.90625,"v":0.0},{"t":57509.91875,"v":0.7},{"t":57509.93125,"v":-0.4},{"t":57509.94375,"v":0.4},{"t":57509.95625,"v":1.0},{"t":57509.96875,"v":0.1},{"t":57509.98125,"v":0.6},{"t":57509.99375,"v":-0.3}
]
},
"layer": [
{"data": {"values": [{"x1": 57501.616, "x2": 57511.06, "y1": 5.415, "y2": -4.32}]},
 "mark": {"type": "rect", "fill": "#ffffff", "cornerRadiusTopLeft": 100, "cornerRadiusBottomRight": 110},
 "encoding": {"x": {"field": "x1", "type": "quantitative", "scale": {"domain": [57503, 57510], "nice": false, "zero": false}, "axis": null}, "x2": {"field": "x2"},
  "y": {"field": "y1", "type": "quantitative", "scale": {"domain": [-3, 4], "nice": false, "zero": false}, "axis": null}, "y2": {"field": "y2"}}},
{"data": {"values": [{"x": 57506.5, "y": 4.717, "label": "PHASE DATA"}, {"x": 57506.5, "y": 4.283, "label": "From 2016-04-25 To 2016-05-01"}]},
 "mark": {"type": "text", "font": "Liberation Sans", "fontSize": 22, "color": "#262626", "align": "center", "baseline": "alphabetic"},
 "encoding": {"x": {"field": "x", "type": "quantitative", "scale": {"domain": [57503, 57510], "nice": false, "zero": false}, "axis": null},
  "y": {"field": "y", "type": "quantitative", "scale": {"domain": [-3, 4], "nice": false, "zero": false}, "axis": null}, "text": {"field": "label"}}},
{"data": {"values": [{"g": 57503}, {"g": 57504}, {"g": 57505}, {"g": 57506}, {"g": 57507}, {"g": 57508}, {"g": 57509}, {"g": 57510}]},
 "mark": {"type": "rule", "color": "#e6e6e6", "strokeWidth": 1},
 "encoding": {"x": {"field": "g", "type": "quantitative", "scale": {"domain": [57503, 57510], "nice": false, "zero": false}, "axis": null}}},
{"data": {"values": [{"g": -3}, {"g": -2}, {"g": -1}, {"g": 0}, {"g": 1}, {"g": 2}, {"g": 3}, {"g": 4}]},
 "mark": {"type": "rule", "color": "#e6e6e6", "strokeWidth": 1},
 "encoding": {"y": {"field": "g", "type": "quantitative", "scale": {"domain": [-3, 4], "nice": false, "zero": false}, "axis": null}}},
{"data": {"name": "phase"},
 "mark": {"type": "line", "color": "#1414ff", "strokeWidth": 1.25, "opacity": 0.85},
 "encoding": {
  "x": {"field": "t", "type": "quantitative", "scale": {"domain": [57503, 57510], "nice": false, "zero": false},
   "axis": {"orient": "bottom", "values": [57503, 57504, 57505, 57506, 57507, 57508, 57509, 57510], "format": "d", "grid": false, "domainColor": "#808080", "domainWidth": 1.5, "tickColor": "#808080", "tickSize": -6, "tickWidth": 1, "labelFont": "Liberation Sans", "labelFontSize": 17, "labelColor": "#262626", "labelPadding": 13, "labelFlush": false, "labelOverlap": false, "title": "Modified Julian Date [Days]", "titleFont": "Liberation Sans", "titleFontSize": 27, "titleFontWeight": "normal", "titleColor": "#1a1a1a", "titlePadding": 4, "zindex": 1}},
  "y": {"field": "v", "type": "quantitative", "scale": {"domain": [-3, 4], "nice": false, "zero": false},
   "axis": {"orient": "left", "values": [-3, -2, -1, 0, 1, 2, 3, 4], "labelExpr": "datum.value < 0 ? '-' + abs(datum.value) : '' + datum.value", "grid": false, "domainColor": "#808080", "domainWidth": 1.5, "tickColor": "#808080", "tickSize": -6, "tickWidth": 1, "labelFont": "Liberation Sans", "labelFontSize": 17, "labelColor": "#262626", "labelPadding": 13, "labelFlush": false, "labelOverlap": false, "title": "Phase Offset [s]", "titleFont": "Liberation Sans", "titleFontSize": 26, "titleFontWeight": "normal", "titleColor": "#1a1a1a", "titlePadding": 10, "zindex": 1}}}},
{"data": {"name": "phase"},
 "mark": {"type": "point", "filled": true, "color": "#0000e0", "size": 9, "opacity": 1},
 "encoding": {
  "x": {"field": "t", "type": "quantitative", "scale": {"domain": [57503, 57510], "nice": false, "zero": false},
   "axis": {"orient": "top", "values": [57503, 57504, 57505, 57506, 57507, 57508, 57509, 57510], "labels": false, "title": null, "grid": false, "domainColor": "#808080", "domainWidth": 1.5, "tickColor": "#808080", "tickSize": -6, "zindex": 1}},
  "y": {"field": "v", "type": "quantitative", "scale": {"domain": [-3, 4], "nice": false, "zero": false},
   "axis": {"orient": "right", "values": [-3, -2, -1, 0, 1, 2, 3, 4], "labels": false, "title": null, "grid": false, "domainColor": "#808080", "domainWidth": 1.5, "tickColor": "#808080", "tickSize": -6, "zindex": 1}}}},
{"data": {"values": [{"x1": 57504.933, "x2": 57508.067, "y1": 3.868, "y2": 3.434}]},
 "mark": {"type": "rect", "fill": "#ffffff", "stroke": "#9a9a9a", "strokeWidth": 1},
 "encoding": {"x": {"field": "x1", "type": "quantitative", "scale": {"domain": [57503, 57510], "nice": false, "zero": false}, "axis": null}, "x2": {"field": "x2"},
  "y": {"field": "y1", "type": "quantitative", "scale": {"domain": [-3, 4], "nice": false, "zero": false}, "axis": null}, "y2": {"field": "y2"}}},
{"data": {"values": [{"x1": 57505.059, "x2": 57505.734, "y": 3.636}]},
 "mark": {"type": "rule", "color": "#7070ff", "strokeWidth": 1.2},
 "encoding": {"x": {"field": "x1", "type": "quantitative", "scale": {"domain": [57503, 57510], "nice": false, "zero": false}, "axis": null}, "x2": {"field": "x2"},
  "y": {"field": "y", "type": "quantitative", "scale": {"domain": [-3, 4], "nice": false, "zero": false}, "axis": null}}},
{"data": {"values": [{"x": 57505.405, "y": 3.636}]},
 "mark": {"type": "point", "filled": true, "color": "#0000e0", "size": 12, "opacity": 1},
 "encoding": {"x": {"field": "x", "type": "quantitative", "scale": {"domain": [57503, 57510], "nice": false, "zero": false}, "axis": null},
  "y": {"field": "y", "type": "quantitative", "scale": {"domain": [-3, 4], "nice": false, "zero": false}, "axis": null}}},
{"data": {"values": [{"x": 57505.802, "y": 3.54, "label": "TSI3 20160425 vs TRF"}]},
 "mark": {"type": "text", "font": "Liberation Sans", "fontSize": 18, "color": "#262626", "align": "left", "baseline": "alphabetic"},
 "encoding": {"x": {"field": "x", "type": "quantitative", "scale": {"domain": [57503, 57510], "nice": false, "zero": false}, "axis": null},
  "y": {"field": "y", "type": "quantitative", "scale": {"domain": [-3, 4], "nice": false, "zero": false}, "axis": null}, "text": {"field": "label"}}},
{"data": {"values": [{"x": 57503, "y": 4.132, "label": "x 10"}]},
 "mark": {"type": "text", "font": "Liberation Sans", "fontSize": 15, "color": "#262626", "align": "left", "baseline": "alphabetic"},
 "encoding": {"x": {"field": "x", "type": "quantitative", "scale": {"domain": [57503, 57510], "nice": false, "zero": false}, "axis": null},
  "y": {"field": "y", "type": "quantitative", "scale": {"domain": [-3, 4], "nice": false, "zero": false}, "axis": null}, "text": {"field": "label"}}},
{"data": {"values": [{"x": 57503.126, "y": -2.868, "label": "by INRiM"}]},
 "mark": {"type": "text", "font": "Liberation Sans", "fontSize": 12.5, "color": "#333333", "align": "left", "baseline": "alphabetic"},
 "encoding": {"x": {"field": "x", "type": "quantitative", "scale": {"domain": [57503, 57510], "nice": false, "zero": false}, "axis": null},
  "y": {"field": "y", "type": "quantitative", "scale": {"domain": [-3, 4], "nice": false, "zero": false}, "axis": null}, "text": {"field": "label"}}},
{"data": {"values": [{"x": 57503.36, "y": 4.3, "label": "-10"}]},
 "mark": {"type": "text", "font": "Liberation Sans", "fontSize": 10, "color": "#262626", "align": "left", "baseline": "alphabetic"},
 "encoding": {"x": {"field": "x", "type": "quantitative", "scale": {"domain": [57503, 57510], "nice": false, "zero": false}, "axis": null},
  "y": {"field": "y", "type": "quantitative", "scale": {"domain": [-3, 4], "nice": false, "zero": false}, "axis": null}, "text": {"field": "label"}}},
{"data": {"values": [{"x1": 57502.935, "x2": 57509.943, "y": 3.37}, {"x1": 57502.935, "x2": 57509.943, "y": -1.57}]},
 "mark": {"type": "rule", "color": "#ff0000", "strokeWidth": 8.5},
 "encoding": {"x": {"field": "x1", "type": "quantitative", "scale": {"domain": [57503, 57510], "nice": false, "zero": false}, "axis": null}, "x2": {"field": "x2"},
  "y": {"field": "y", "type": "quantitative", "scale": {"domain": [-3, 4], "nice": false, "zero": false}, "axis": null}}},
{"data": {"values": [{"x1": 57506.82, "x2": 57508.936, "y1": 0.132, "y2": -1.434}]},
 "mark": {"type": "rect", "fill": "#000000"},
 "encoding": {"x": {"field": "x1", "type": "quantitative", "scale": {"domain": [57503, 57510], "nice": false, "zero": false}, "axis": null}, "x2": {"field": "x2"},
  "y": {"field": "y1", "type": "quantitative", "scale": {"domain": [-3, 4], "nice": false, "zero": false}, "axis": null}, "y2": {"field": "y2"}}},
{"data": {"values": [{"x": 57507.78, "y": -0.975, "label": "0,5 ns"}]},
 "mark": {"type": "text", "font": "Open Sans", "fontSize": 46, "fontWeight": "bold", "color": "#ff0000", "align": "center", "baseline": "alphabetic"},
 "encoding": {"x": {"field": "x", "type": "quantitative", "scale": {"domain": [57503, 57510], "nice": false, "zero": false}, "axis": null},
  "y": {"field": "y", "type": "quantitative", "scale": {"domain": [-3, 4], "nice": false, "zero": false}, "axis": null}, "text": {"field": "label"}}},
{"data": {"values": [{"x": 57509.088, "y1": 3.2, "y2": -1.2}]},
 "mark": {"type": "rule", "color": "#ff0000", "strokeWidth": 7.5},
 "encoding": {"x": {"field": "x", "type": "quantitative", "scale": {"domain": [57503, 57510], "nice": false, "zero": false}, "axis": null},
  "y": {"field": "y1", "type": "quantitative", "scale": {"domain": [-3, 4], "nice": false, "zero": false}, "axis": null}, "y2": {"field": "y2"}}},
{"data": {"values": [{"x": 57509.088, "y": 3.292}]},
 "mark": {"type": "point", "shape": "triangle-up", "filled": true, "color": "#ff0000", "size": 600, "opacity": 1},
 "encoding": {"x": {"field": "x", "type": "quantitative", "scale": {"domain": [57503, 57510], "nice": false, "zero": false}, "axis": null},
  "y": {"field": "y", "type": "quantitative", "scale": {"domain": [-3, 4], "nice": false, "zero": false}, "axis": null}}},
{"data": {"values": [{"x": 57509.088, "y": -1.292}]},
 "mark": {"type": "point", "shape": "triangle-down", "filled": true, "color": "#ff0000", "size": 600, "opacity": 1},
 "encoding": {"x": {"field": "x", "type": "quantitative", "scale": {"domain": [57503, 57510], "nice": false, "zero": false}, "axis": null},
  "y": {"field": "y", "type": "quantitative", "scale": {"domain": [-3, 4], "nice": false, "zero": false}, "axis": null}}}
],
"resolve": {"axis": {"x": "independent", "y": "independent"}}
}
